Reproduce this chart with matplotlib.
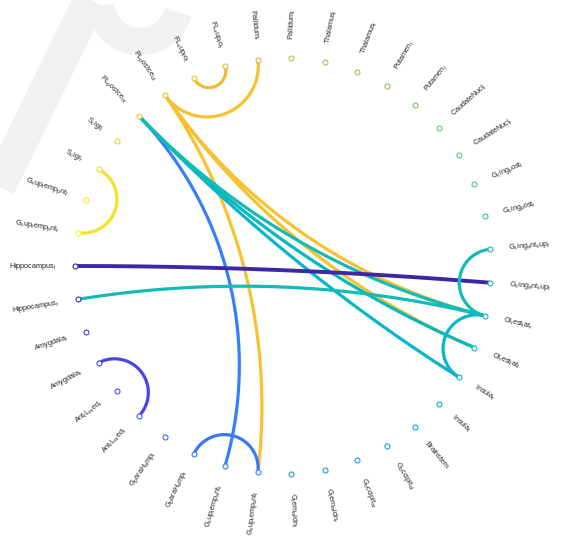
import numpy as np
import matplotlib
matplotlib.use("Agg")
import matplotlib.pyplot as plt
from matplotlib.colors import LinearSegmentedColormap

plt.rcParams['font.family'] = ['Liberation Sans', 'DejaVu Sans']
plt.rcParams['mathtext.fontset'] = 'custom'
plt.rcParams['mathtext.rm'] = 'Liberation Sans'
plt.rcParams['mathtext.it'] = 'Liberation Sans'
plt.rcParams['mathtext.bf'] = 'Liberation Sans:bold'
plt.rcParams['mathtext.default'] = 'regular'

# ---- data ----
node_labels = [
    "Hippocampus_l", "Hippocampus_r", "Amygdala_l", "Amygdala_r",
    "Ant_IL_med_r", "Ant_IL_med_l", "G_paraH_amp_l", "G_paraH_amp_r",
    "G_sup_temp_ant_r", "G_sup_temp_ant_l", "G_tem_midn_l", "G_tem_midn_r",
    "G_occipit_a_r", "G_occipit_a_l", "Brainstem", "Insula_l", "Insula_r",
    "Ol_rest_lat_l", "Ol_rest_lat_r", "G_cing_ant_sup_l", "G_cing_ant_sup_r",
    "G_cing_post_r", "G_cing_post_l", "CaudateNucl_r", "CaudateNucl_l",
    "Putamen_l", "Putamen_r", "Thalamus_r", "Thalamus_l", "Pallidum_l",
    "Pallidum_r", "FL_sup_fo_r", "FL_sup_fo_l", "PL_postce_o_l",
    "PL_postce_o_r", "S_cigr_l", "S_cigr_r", "G_sup_temp_pnt_l",
    "G_sup_temp_pnt_r",
]
# connections: (source node -> colour of the edge, target node), in draw order
edge_source = [33, 33, 33, 33, 32, 36, 3, 7, 8, 16, 17, 18, 18, 0, 18, 16]
edge_target = [9, 17, 18, 30, 31, 38, 5, 9, 34, 34, 34, 34, 1, 19, 20, 18]

# parula-like colormap
parula_pts = [
    (0.00, (0.2422, 0.1504, 0.6603)),
    (0.05, (0.2691, 0.2270, 0.8420)),
    (0.10, (0.2783, 0.3134, 0.9509)),
    (0.15, (0.2681, 0.4036, 0.9942)),
    (0.20, (0.2117, 0.4898, 0.9835)),
    (0.25, (0.1749, 0.5549, 0.9556)),
    (0.30, (0.1540, 0.5902, 0.9218)),
    (0.35, (0.0840, 0.6635, 0.8673)),
    (0.40, (0.0301, 0.7061, 0.8135)),
    (0.45, (0.0239, 0.7283, 0.7470)),
    (0.50, (0.1185, 0.7404, 0.6730)),
    (0.60, (0.3500, 0.7700, 0.5000)),
    (0.70, (0.6000, 0.7550, 0.3700)),
    (0.80, (0.8200, 0.7400, 0.2400)),
    (0.85, (0.9500, 0.7400, 0.2000)),
    (0.90, (0.9950, 0.7800, 0.1800)),
    (0.95, (0.9600, 0.8900, 0.1500)),
    (1.00, (0.9769, 0.9839, 0.0805)),
]
cmap = LinearSegmentedColormap.from_list("parula", parula_pts)


def to_math(s):
    out = ""
    last_sub = False
    i = 0
    while i < len(s):
        c = s[i]
        if c == "_" and i + 1 < len(s):
            ch = s[i + 1]
            if last_sub:
                out = out[:-1] + ch + "}"
            else:
                out += "_{" + ch + "}"
            last_sub = True
            i += 2
        else:
            out += "\\ " if c == " " else c
            last_sub = False
            i += 1
    return "$" + out + "$"


n = len(node_labels)
ang = np.pi + np.arange(n) * 2 * np.pi / n
colors = [cmap(k / (n - 1)) for k in range(n)]

W, H = 562, 538
fig = plt.figure(figsize=(W / 100, H / 100), dpi=100)
ax = fig.add_axes([0, 0, 1, 1])
R = 208.0
cx, cy = 283.0, 266.0
ax.set_xlim(-cx / R, (W - cx) / R)
ax.set_ylim(-(H - cy) / R, cy / R)
ax.set_aspect('equal')
ax.axis('off')


def px(x, y):
    return (x - cx) / R, (cy - y) / R


# faint watermark strokes in the background
p1, p2 = px(-5, 195), px(90, 0)
ax.plot([p1[0], p2[0]], [p1[1], p2[1]], color='#f1f1f1', lw=24,
        solid_capstyle='butt', zorder=0)
tt = np.linspace(np.radians(185), np.radians(345), 60)
c0 = px(140, 2)
ax.plot(c0[0] + 0.19 * np.cos(tt), c0[1] + 0.19 * np.sin(tt), color='#f1f1f1', lw=20,
        solid_capstyle='butt', zorder=0)

for s, t in zip(edge_source, edge_target):
    u = np.array([np.cos(ang[s]), np.sin(ang[s])])
    v = np.array([np.cos(ang[t]), np.sin(ang[t])])
    den = u[0] * v[1] - u[1] * v[0]
    if abs(den) < 1e-9:
        xs, ys = [u[0], v[0]], [u[1], v[1]]
    else:
        x0 = -(u[1] - v[1]) / den
        y0 = (u[0] - v[0]) / den
        r = np.sqrt(x0 ** 2 + y0 ** 2 - 1)
        t1 = np.arctan2(u[1] - y0, u[0] - x0)
        t2 = np.arctan2(v[1] - y0, v[0] - x0)
        d = (t2 - t1 + np.pi) % (2 * np.pi) - np.pi
        th = t1 + d * np.linspace(0, 1, 200)
        xs, ys = x0 + r * np.cos(th), y0 + r * np.sin(th)
    lw = 2.8 if s == 0 else 2.3
    ax.plot(xs, ys, color=colors[s], lw=lw, solid_capstyle='round', zorder=2)

for k in range(n):
    x, y = np.cos(ang[k]), np.sin(ang[k])
    ax.plot(x, y, 'o', ms=3.6, mfc='white', mec=colors[k], mew=0.8, zorder=3)
    deg = np.degrees(ang[k]) % 360
    lx, ly = 1.09 * x, 1.09 * y
    if np.cos(ang[k]) >= -1e-9:
        rot, ha = deg, 'left'
    else:
        rot, ha = deg - 180, 'right'
    ax.text(lx, ly, to_math(node_labels[k]), rotation=rot, rotation_mode='anchor',
            ha=ha, va='center', fontsize=5.2, color='#222222', zorder=4)

fig.savefig("out.png", dpi=100)
